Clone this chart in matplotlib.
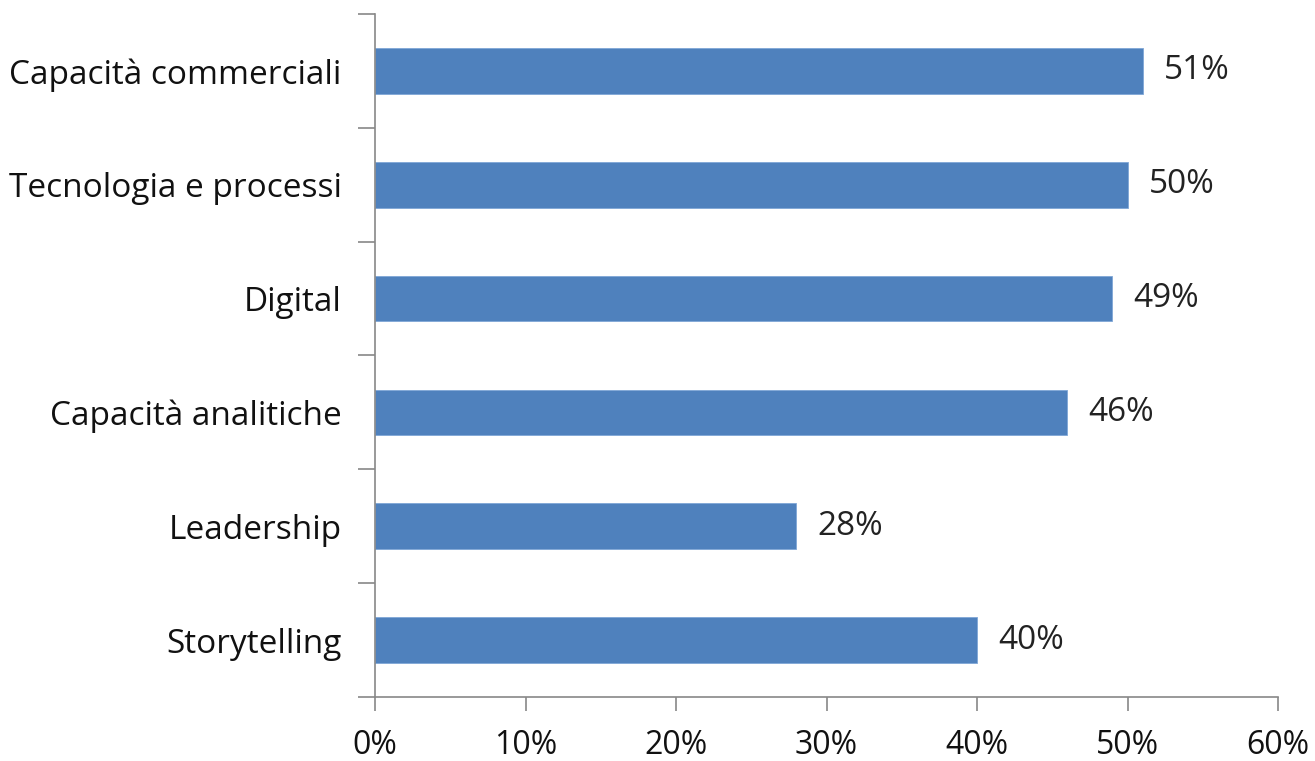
import matplotlib.pyplot as plt
import numpy as np
from matplotlib.ticker import FixedLocator, PercentFormatter

categories = ["Capacità commerciali", "Tecnologia e processi", "Digital",
              "Capacità analitiche", "Leadership", "Storytelling"]
values = [51, 50, 49, 46, 28, 40]
xticks = [0, 10, 20, 30, 40, 50, 60]

plt.rcParams['font.family'] = ['Open Sans', 'DejaVu Sans']

fig = plt.figure(figsize=(13.15, 7.61), dpi=100)
ax = fig.add_axes([375/1315, 1-697/761, (1278-375)/1315, (697-14)/761])

n = len(categories)
y = np.arange(n)[::-1]
ax.barh(y, values, height=0.4, color='#4F81BD', edgecolor='#7FA6D6', linewidth=0.6)
for yi, v in zip(y, values):
    ax.text(v + 1.4, yi, f"{v}%", va='center', ha='left', fontsize=24, color='#222222')

ax.set_xlim(0, 60)
ax.set_ylim(-0.5, n - 0.5)
ax.set_xticks(xticks)
ax.xaxis.set_major_formatter(PercentFormatter(decimals=0))
ax.set_yticks(y)
ax.set_yticklabels(categories)
ax.yaxis.set_minor_locator(FixedLocator(np.arange(-0.5, n, 1.0)))
ax.tick_params(axis='y', which='major', length=0, pad=24, labelsize=24, labelcolor='#111111')
ax.tick_params(axis='y', which='minor', length=12, color='#888888', width=1.2)
ax.tick_params(axis='x', length=10, color='#888888', width=1.2, labelsize=23,
               labelcolor='#111111', pad=13)

for s in ['top', 'right']:
    ax.spines[s].set_visible(False)
for s in ['left', 'bottom']:
    ax.spines[s].set_color('#888888')
    ax.spines[s].set_linewidth(1.2)

fig.savefig('out.png', dpi=100)
